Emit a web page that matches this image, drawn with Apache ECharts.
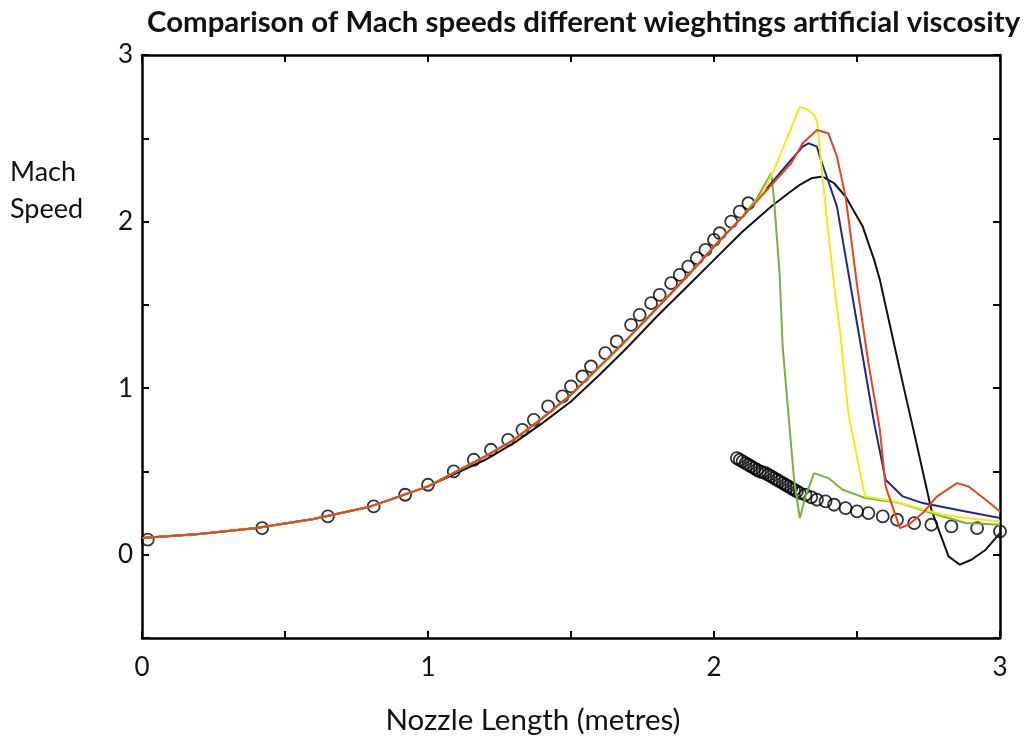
<!DOCTYPE html>
<html>
<head>
<meta charset="utf-8">
<script src="https://cdn.jsdelivr.net/npm/echarts@6/dist/echarts.min.js"></script>
<style>html,body{margin:0;padding:0;background:#fff;}#c{width:1027px;height:740px;}</style>
</head>
<body>
<div id="c"></div>
<script>
// ---- data ----
const xTicks = [0, 1, 2, 3];
const yTicks = [0, 1, 2, 3];

// shared subsonic/supersonic part of the coloured runs
const commonX = [0, 0.2, 0.4, 0.6, 0.8, 1.0, 1.1, 1.2, 1.3, 1.4, 1.5, 1.6, 1.7, 1.8, 1.9, 2.0, 2.1];
const commonY = [0.10, 0.125, 0.16, 0.215, 0.29, 0.41, 0.50, 0.59, 0.69, 0.82, 0.96, 1.13, 1.30, 1.48, 1.66, 1.85, 2.03];

const redTailX = [2.18, 2.27, 2.31, 2.36, 2.40, 2.43, 2.46, 2.48, 2.50, 2.54, 2.58, 2.60, 2.65, 2.68, 2.73, 2.78, 2.85, 2.89, 2.95, 3.0];
const redTailY = [2.18, 2.35, 2.47, 2.55, 2.53, 2.39, 2.15, 1.89, 1.62, 1.15, 0.75, 0.41, 0.16, 0.18, 0.25, 0.35, 0.43, 0.41, 0.33, 0.26];

const yellowTailX = [2.17, 2.21, 2.26, 2.30, 2.33, 2.35, 2.36, 2.365, 2.39, 2.42, 2.44, 2.47, 2.52, 2.53, 2.60, 2.65, 2.80, 2.88, 3.0];
const yellowTailY = [2.17, 2.31, 2.52, 2.69, 2.67, 2.64, 2.60, 2.52, 2.09, 1.62, 1.35, 0.85, 0.41, 0.35, 0.33, 0.31, 0.24, 0.22, 0.20];

const blueTailX = [2.18, 2.26, 2.31, 2.33, 2.36, 2.37, 2.39, 2.43, 2.46, 2.48, 2.52, 2.56, 2.60, 2.66, 2.73, 2.88, 3.0];
const blueTailY = [2.19, 2.35, 2.45, 2.47, 2.45, 2.39, 2.29, 2.09, 1.79, 1.59, 1.19, 0.79, 0.45, 0.35, 0.31, 0.26, 0.22];

const greenTailX = [2.15, 2.20, 2.21, 2.23, 2.24, 2.26, 2.28, 2.30, 2.32, 2.35, 2.40, 2.45, 2.53, 2.65, 2.76, 2.88, 3.0];
const greenTailY = [2.14, 2.29, 2.13, 1.67, 1.25, 0.85, 0.45, 0.22, 0.35, 0.49, 0.46, 0.39, 0.34, 0.31, 0.25, 0.19, 0.18];

const blackX = [0, 0.2, 0.4, 0.6, 0.8, 1.0, 1.1, 1.2, 1.3, 1.4, 1.5, 1.6, 1.7, 1.8, 1.9, 2.0, 2.1, 2.2, 2.26, 2.30, 2.34, 2.38, 2.42, 2.46, 2.52, 2.56, 2.58, 2.62, 2.66, 2.70, 2.73, 2.76, 2.79, 2.82, 2.86, 2.90, 2.95, 3.0];
const blackY = [0.10, 0.125, 0.16, 0.215, 0.29, 0.41, 0.49, 0.57, 0.67, 0.79, 0.92, 1.08, 1.25, 1.43, 1.60, 1.77, 1.94, 2.09, 2.17, 2.22, 2.26, 2.27, 2.23, 2.15, 1.97, 1.77, 1.65, 1.34, 1.03, 0.73, 0.50, 0.27, 0.13, -0.01, -0.06, -0.03, 0.03, 0.13];

// exact solution markers (open circles)
const exactAX = [0.02, 0.42, 0.65, 0.81, 0.92, 1.00, 1.09, 1.16, 1.22, 1.28, 1.33, 1.37, 1.42, 1.47, 1.50, 1.54, 1.57, 1.62, 1.66, 1.71, 1.74, 1.78, 1.81, 1.85, 1.88, 1.91, 1.94, 1.97, 2.00, 2.02, 2.06, 2.09, 2.12];
const exactAY = [0.09, 0.16, 0.23, 0.29, 0.36, 0.42, 0.50, 0.57, 0.63, 0.69, 0.75, 0.81, 0.89, 0.95, 1.01, 1.07, 1.13, 1.21, 1.28, 1.38, 1.44, 1.51, 1.56, 1.63, 1.68, 1.73, 1.78, 1.83, 1.89, 1.93, 2.00, 2.06, 2.11];
const exactBX = [2.08, 2.09, 2.10, 2.11, 2.12, 2.13, 2.14, 2.15, 2.16, 2.17, 2.18, 2.19, 2.20, 2.21, 2.22, 2.23, 2.24, 2.25, 2.26, 2.27, 2.28, 2.29, 2.30, 2.32, 2.34, 2.36, 2.39, 2.42, 2.46, 2.50, 2.54, 2.59, 2.64, 2.70, 2.76, 2.83, 2.92, 3.00];
const exactBY = [0.58, 0.57, 0.56, 0.55, 0.54, 0.53, 0.52, 0.51, 0.50, 0.495, 0.49, 0.48, 0.47, 0.46, 0.45, 0.44, 0.43, 0.42, 0.41, 0.40, 0.39, 0.38, 0.37, 0.36, 0.345, 0.33, 0.32, 0.30, 0.28, 0.26, 0.25, 0.23, 0.21, 0.19, 0.18, 0.17, 0.16, 0.14];

// ---- build ----
function zip(xs, ys) { return xs.map((x, i) => [x, ys[i]]); }
const common = zip(commonX, commonY);
const FONT = 'Lato';

const lineSeries = (name, data, color, z) => ({
  name, type: 'line', data, showSymbol: false, smooth: false, z,
  lineStyle: { color, width: 2 }, itemStyle: { color }, animation: false
});

const chart = echarts.init(document.getElementById('c'), null, { renderer: 'canvas' });
const axisCommon = {
  axisLine: { show: true, onZero: false, lineStyle: { color: '#000', width: 2.5 } },
  axisTick: { show: true, inside: true, length: 7, lineStyle: { color: '#000', width: 2 } },
  splitLine: { show: false }
};
chart.setOption({
  backgroundColor: '#fff',
  animation: false,
  title: [
    { text: 'Comparison of Mach speeds different wieghtings artificial viscosity', left: 142, top: 3,
      textStyle: { fontFamily: FONT, fontSize: 29.4, fontWeight: 'bold', color: '#111' } },
    { text: 'Mach\nSpeed', left: 5, top: 149,
      textStyle: { fontFamily: FONT, fontSize: 27, fontWeight: 'normal', color: '#111', lineHeight: 37 } }
  ],
  grid: { left: 142, right: 27, top: 55, bottom: 102, containLabel: false },
  xAxis: [
    Object.assign({
      type: 'value', min: 0, max: 3, interval: 0.5, position: 'bottom',
      name: 'Nozzle Length (metres)', nameLocation: 'middle', nameGap: 67,
      nameTextStyle: { fontFamily: FONT, fontSize: 29.5, color: '#111', padding: [0, 76, 0, 0] },
      axisLabel: { margin: 17, fontFamily: FONT, fontSize: 26, color: '#111',
        formatter: v => (xTicks.indexOf(v) >= 0 ? String(v) : '') }
    }, axisCommon),
    Object.assign({
      type: 'value', min: 0, max: 3, interval: 0.5, position: 'top', axisLabel: { show: false }
    }, axisCommon)
  ],
  yAxis: [
    Object.assign({
      type: 'value', min: -0.5, max: 3, interval: 0.5, position: 'left',
      axisLabel: { margin: 9, fontFamily: FONT, fontSize: 26, color: '#111',
        formatter: v => (yTicks.indexOf(v) >= 0 ? String(v) : '') }
    }, axisCommon),
    Object.assign({
      type: 'value', min: -0.5, max: 3, interval: 0.5, position: 'right', axisLabel: { show: false }
    }, axisCommon)
  ],
  series: [
    { name: 'Exact (subsonic/supersonic)', type: 'scatter', data: zip(exactAX, exactAY), symbol: 'circle', symbolSize: 12, z: 1,
      itemStyle: { color: 'rgba(255,255,255,0)', borderColor: '#000', borderWidth: 1.8 } },
    { name: 'Exact (after shock)', type: 'scatter', data: zip(exactBX, exactBY), symbol: 'circle', symbolSize: 12, z: 1,
      itemStyle: { color: 'rgba(255,255,255,0)', borderColor: '#000', borderWidth: 1.8 } },
    lineSeries('Black', zip(blackX, blackY), '#111111', 2),
    lineSeries('Green', common.concat(zip(greenTailX, greenTailY)), '#7bb03c', 3),
    lineSeries('Blue', common.concat(zip(blueTailX, blueTailY)), '#1f2a88', 4),
    lineSeries('Yellow', common.concat(zip(yellowTailX, yellowTailY)), '#f0ec14', 5),
    lineSeries('Red', common.concat(zip(redTailX, redTailY)), '#e2461e', 6)
  ]
});
</script>
</body>
</html>
